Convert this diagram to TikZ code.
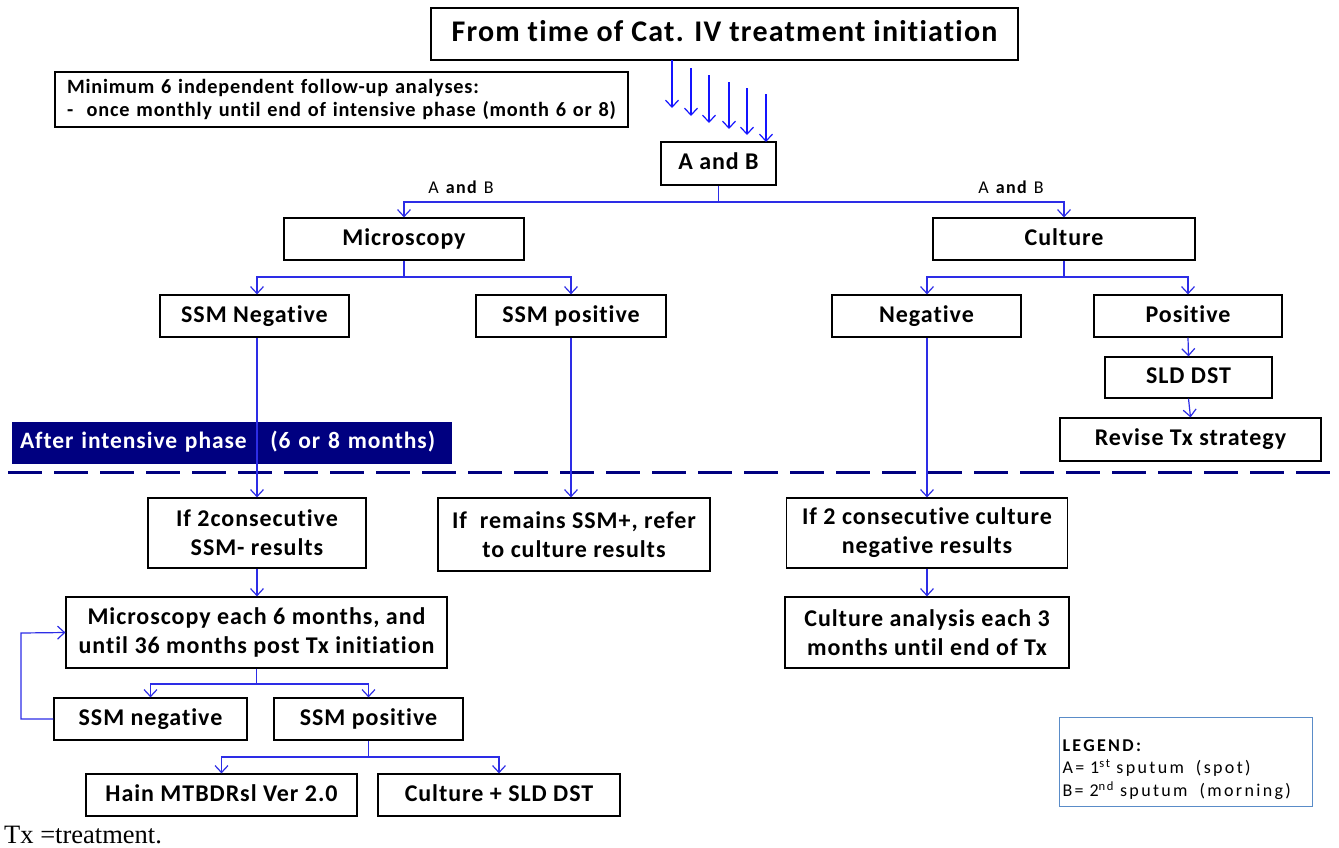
\documentclass[tikz,border=0pt]{standalone}
\usepackage{fontspec}
\setmainfont{Carlito}[Ligatures=NoCommon, LetterSpace=4]
\newfontfamily\serifx{Liberation Serif}
\usetikzlibrary{arrows.meta}
\definecolor{conn}{RGB}{45,45,230}
\definecolor{topc}{RGB}{20,20,255}
\definecolor{navyb}{RGB}{0,0,128}
\definecolor{legb}{RGB}{90,140,200}
\tikzset{
  box/.style={draw=black, line width=1.2pt, align=center, inner sep=2pt, font=\bfseries\fontsize{24}{29}\selectfont},
  one/.style={text height=17pt, text depth=5pt},
  cn/.style={draw=conn, line width=1.2pt},
  arr/.style={cn, -{Straight Barb[length=7pt,width=13pt,line width=1.2pt]}},
  lbl/.style={font=\fontsize{18}{21}\selectfont\addfontfeatures{LetterSpace=8}, inner sep=0pt},
}
\begin{document}
\begin{tikzpicture}[x=1pt,y=-1pt]
\useasboundingbox (0,0) rectangle (1339,847);
% boxes
\node[box, minimum width=587pt, minimum height=52pt, text height=21pt, text depth=6pt, font=\bfseries\fontsize{30}{34}\selectfont] (title) at (724.5,34) {From time of Cat. IV treatment initiation};
\node[box, minimum width=573pt, minimum height=55pt, align=left, text width=549pt, font=\bfseries\fontsize{20.3}{22.5}\selectfont] (minb) at (341.5,99.5) {Minimum 6 independent follow-up analyses:\\-\ \ once monthly until end of intensive phase (month 6 or 8)};
\node[box, one, minimum width=115pt, minimum height=43pt] (ab) at (718.5,163.5) {A and B};
\node[box, one, minimum width=240pt, minimum height=42pt] (micro) at (404,239) {Microscopy};
\node[box, one, minimum width=262pt, minimum height=42pt] (cult) at (1064,239) {Culture};
\node[box, one, minimum width=189pt, minimum height=42pt] (ssmneg) at (254.5,316) {SSM Negative};
\node[box, one, minimum width=190pt, minimum height=42pt] (ssmpos) at (571,316) {SSM positive};
\node[box, one, minimum width=189pt, minimum height=42pt] (neg) at (926.5,316) {Negative};
\node[box, one, minimum width=188pt, minimum height=42pt] (pos) at (1188,316) {Positive};
\node[box, one, minimum width=167pt, minimum height=41pt] (sld) at (1188.5,377.5) {SLD DST};
\node[box, one, minimum width=261pt, minimum height=43pt] (rev) at (1190.5,439.5) {Revise Tx strategy};
\node[draw=navyb, fill=navyb, text=white, one, minimum width=439pt, minimum height=41pt, font=\bfseries\fontsize{23.5}{27}\selectfont, text width=423pt, align=left, inner xsep=8pt, inner ysep=2pt] (banner) at (231.5,442.5) {After intensive phase\ \ \ (6 or 8 months)};
\node[box, minimum width=218pt, minimum height=70pt] (if2) at (257,533) {If 2consecutive\\SSM- results};
\node[box, minimum width=272pt, minimum height=73pt] (rem) at (574,534.5) {If\ \ remains SSM+, refer\\to culture results};
\node[box, minimum width=281pt, minimum height=70pt] (if2c) at (927,533) {If 2 consecutive culture\\negative results};
\node[box, minimum width=381pt, minimum height=71pt] (mic6) at (256.5,632.5) {Microscopy each 6 months, and\\until 36 months post Tx initiation};
\node[box, minimum width=284pt, minimum height=71pt] (cult3) at (927,632.5) {Culture analysis each 3\\months until end of Tx};
\node[box, one, minimum width=193pt, minimum height=42pt] (sneg2) at (150.5,719) {SSM negative};
\node[box, one, minimum width=189pt, minimum height=42pt] (spos2) at (368.5,719) {SSM positive};
\node[box, one, minimum width=271pt, minimum height=42pt] (hain) at (221.5,795) {Hain MTBDRsl Ver 2.0};
\node[box, one, minimum width=242pt, minimum height=42pt] (csld) at (499,795) {Culture + SLD DST};
\node[draw=legb, line width=1pt, minimum width=253pt, minimum height=89pt, text width=246pt, align=left, inner sep=2pt, font=\fontsize{18}{22.5}\selectfont\addfontfeatures{LetterSpace=13}] (leg) at (1185.5,762) {\rule{0pt}{27pt}\textbf{LEGEND:}\\A= 1\textsuperscript{st} sputum\ \ (spot)\\B= 2\textsuperscript{nd} sputum\ \ (morning)};
\node[anchor=base west, inner sep=0pt, font=\serifx\fontsize{26.5}{30}\selectfont] (tx) at (4,843) {Tx =treatment.};
% labels
\node[lbl] (lab1) at (461,187) {A \textbf{and} B};
\node[lbl] (lab2) at (1011,187) {A \textbf{and} B};
% dashed line
\coordinate (dl) at (8,472);
\coordinate (dr) at (1339,472);
\draw[navyb, line width=3pt, dash pattern=on 34pt off 12pt] (dl) -- (dr);
% six arrows
\foreach \i/\x/\ya/\yb in {1/672/60/108, 2/691/68/116, 3/709/75/123, 4/729/82/129, 5/747/88/135, 6/766/94/142}{
  \coordinate (s\i) at (\x,\ya);
  \coordinate (e\i) at (\x,\yb);
  \draw[arr, draw=topc] (s\i) -- (e\i);
}
% connectors
\coordinate (j1) at (718.5,202);
\draw[cn] (ab.south) -- (j1);
\draw[arr] (j1) -| (micro.north);
\draw[arr] (j1) -| (cult.north);
\coordinate (j2) at (404,277);
\draw[cn] (micro.south) -- (j2);
\draw[arr] (j2) -| (if2.north |- ssmneg.north);
\draw[arr] (j2) -| (ssmpos.north);
\coordinate (j3) at (1064,277);
\draw[cn] (cult.south) -- (j3);
\draw[arr] (j3) -| (if2c.north |- neg.north);
\draw[arr] (j3) -| (pos.north);
\draw[arr] (pos.south) -- (sld.north);
\draw[arr] (sld.south) -- (rev.north);
\draw[arr] (if2.north |- ssmneg.south) -- (if2.north);
\draw[arr] (ssmpos.south) -- (ssmpos.south |- rem.north);
\draw[arr] (if2c.north |- neg.south) -- (if2c.north);
\draw[arr] (if2.south) -- (if2.south |- mic6.north);
\draw[arr] (if2c.south) -- (cult3.north);
\coordinate (j4) at (256.5,684);
\draw[cn] (mic6.south) -- (j4);
\draw[arr] (j4) -| (sneg2.north);
\draw[arr] (j4) -| (spos2.north);
\coordinate (j5) at (368.5,757);
\draw[cn] (spos2.south) -- (j5);
\draw[arr] (j5) -| (hain.north);
\draw[arr] (j5) -| (csld.north);
\coordinate (lp1) at (21,719);
\coordinate (lp2) at (21,633);
\draw[arr] (sneg2.west) -- (lp1) -- (lp2) -- (mic6.west);
\end{tikzpicture}
\end{document}
